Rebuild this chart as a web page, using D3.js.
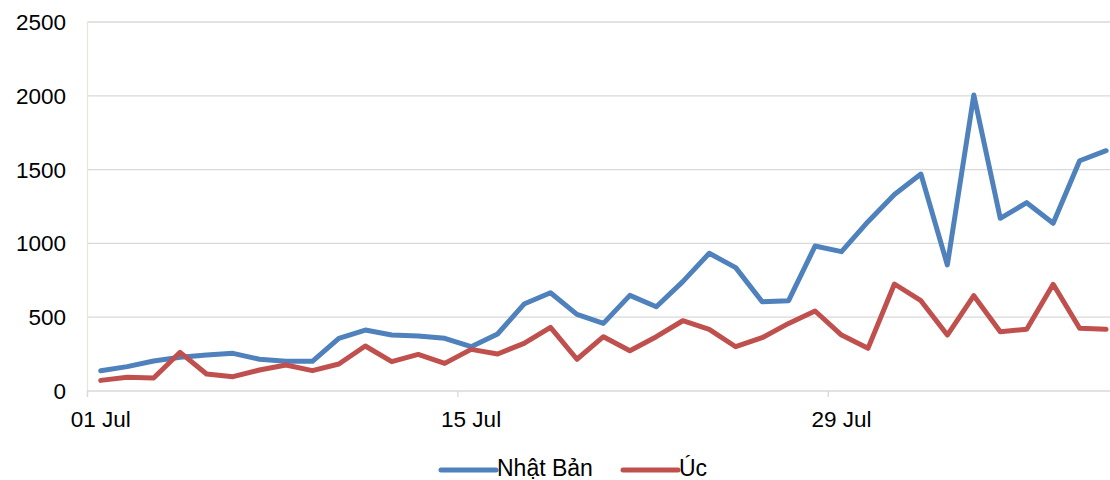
<!DOCTYPE html>
<html>
<head>
<meta charset="utf-8">
<script src="https://cdn.jsdelivr.net/npm/d3@7"></script>
<style>
  html, body { margin: 0; padding: 0; background: #fff; }
  svg { display: block; }
  text { font-family: "Liberation Sans", Arial, sans-serif; fill: #000; }
</style>
</head>
<body>
<svg id="chart" width="1110" height="480"></svg>
<script>
const categories = ["01 Jul","02 Jul","03 Jul","04 Jul","05 Jul","06 Jul","07 Jul","08 Jul","09 Jul","10 Jul",
  "11 Jul","12 Jul","13 Jul","14 Jul","15 Jul","16 Jul","17 Jul","18 Jul","19 Jul","20 Jul",
  "21 Jul","22 Jul","23 Jul","24 Jul","25 Jul","26 Jul","27 Jul","28 Jul","29 Jul","30 Jul",
  "31 Jul","01 Aug","02 Aug","03 Aug","04 Aug","05 Aug","06 Aug","07 Aug","08 Aug"];
const japan = [137,165,203,228,244,255,215,201,201,357,413,379,373,357,300,386,589,666,519,458,
  648,571,741,933,836,605,612,982,944,1147,1332,1470,854,2005,1170,1276,1136,1560,1628];
const australia = [72,93,88,262,115,97,142,176,138,183,305,199,248,187,282,251,323,431,215,368,
  273,368,476,418,300,361,458,542,379,289,725,612,379,646,402,418,723,425,418];
const yTicks = [0,500,1000,1500,2000,2500];
const xLabelEvery = 14;
const seriesNames = ["Nhật Bản","Úc"];
const colors = ["#4F81BD","#C0504D"];

const svg = d3.select("#chart");
const left = 87.5, step = 26.457;
const x = d3.scaleBand().domain(d3.range(categories.length)).range([left, left + step*categories.length]).padding(0);
const y = d3.scaleLinear().domain([0,2500]).range([391,22]);
const xc = i => x(i) + x.bandwidth()/2;

// gridlines
svg.append("g").selectAll("line").data(yTicks.filter(d => d > 0)).join("line")
  .attr("x1", left).attr("x2", 1110).attr("y1", d => y(d)).attr("y2", d => y(d))
  .attr("stroke", "#d9d9d9").attr("stroke-width", 1.3);

// y axis line
svg.append("line").attr("x1", left).attr("x2", left).attr("y1", y(2500)).attr("y2", y(0)+6)
  .attr("stroke", "#e6e6dc").attr("stroke-width", 1.3);

// x axis line
svg.append("line").attr("x1", left).attr("x2", 1110).attr("y1", y(0)).attr("y2", y(0))
  .attr("stroke", "#d9d9d9").attr("stroke-width", 1.3);

// x ticks and labels
const tickIdx = d3.range(0, categories.length, xLabelEvery);
svg.append("g").selectAll("line").data(tickIdx).join("line")
  .attr("x1", i => x(i)).attr("x2", i => x(i)).attr("y1", y(0)).attr("y2", y(0)+6)
  .attr("stroke", "#d9d9d9").attr("stroke-width", 1.3);
svg.append("g").selectAll("text").data(tickIdx).join("text")
  .attr("x", i => xc(i)).attr("y", 427).attr("text-anchor", "middle")
  .style("font-size", "22.5px").text(i => categories[i]);

// y labels
svg.append("g").selectAll("text").data(yTicks).join("text")
  .attr("x", 66).attr("y", d => y(d) + 8).attr("text-anchor", "end")
  .style("font-size", "22.5px").text(d => d);

// lines
const line = d3.line().x((d, i) => xc(i)).y(d => y(d));
[japan, australia].forEach((s, k) => {
  svg.append("path").datum(s).attr("d", line).attr("fill", "none")
    .attr("stroke", colors[k]).attr("stroke-width", 5)
    .attr("stroke-linejoin", "round").attr("stroke-linecap", "round");
});

// legend
const legendItems = [{x0: 441, x1: 496}, {x0: 623, x1: 678}];
legendItems.forEach((p, k) => {
  svg.append("line").attr("x1", p.x0).attr("x2", p.x1).attr("y1", 470).attr("y2", 470)
    .attr("stroke", colors[k]).attr("stroke-width", 5).attr("stroke-linecap", "round");
  svg.append("text").attr("x", p.x1 + 1).attr("y", 476).style("font-size", "23px").text(seriesNames[k]);
});
</script>
</body>
</html>
